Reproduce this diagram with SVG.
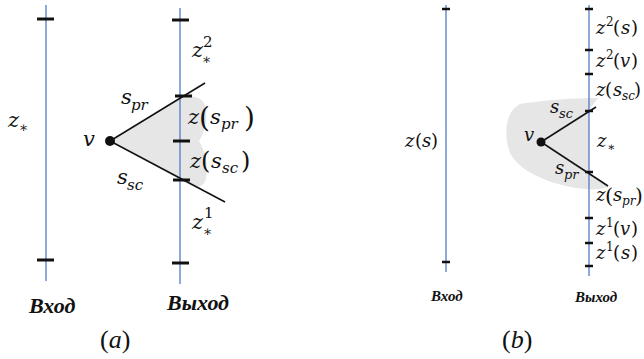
<svg xmlns="http://www.w3.org/2000/svg" width="644" height="359" viewBox="0 0 644 359">
<style>
.axis{stroke:#4f7acb;stroke-width:1.3;fill:none}
.tk{stroke:#111;stroke-width:3;fill:none}
.tks{stroke:#111;stroke-width:2.5;fill:none}
.edge{stroke:#111;stroke-width:1.5;fill:none}
.blob{fill:#e6e6e6;stroke:none}
.m{font-family:"DejaVu Serif",serif;font-style:italic;fill:#111}
.up{font-style:normal}
.lbl{font-family:"Liberation Serif",serif;font-style:italic;font-weight:bold;fill:#111}
.cap{font-family:"Liberation Serif",serif;fill:#111}
</style>
<rect width="644" height="359" fill="#fff"/>
<!-- Panel (a) -->
<g id="a-blob"><path class="blob" d="M110,141 L180,97 C194,95 205,97 206,110 C207,124 204,133 199,141 C205,151 209,165 206,178 C204,188 196,189 186,183 Z"/></g>
<g id="a-input">
<line class="axis" x1="46" y1="5" x2="46" y2="281"/>
<line class="tk" x1="37" y1="19" x2="54" y2="19"/>
<line class="tk" x1="37" y1="260" x2="54" y2="260"/>
</g>
<g id="a-output">
<line class="axis" x1="180" y1="8" x2="180" y2="284"/>
<line class="tk" x1="172" y1="20" x2="189" y2="20"/>
<line class="tk" x1="175" y1="96" x2="192" y2="96"/>
<line class="tk" x1="173" y1="141" x2="190" y2="141"/>
<line class="tk" x1="173" y1="180" x2="190" y2="180"/>
<line class="tk" x1="172" y1="263" x2="189" y2="263"/>
</g>
<g id="a-connectors">
<line class="edge" x1="110" y1="141" x2="205" y2="83"/>
<line class="edge" x1="110" y1="141" x2="225" y2="202"/>
</g>
<g id="a-v"><circle cx="110" cy="141" r="5" fill="#111"/></g>
<g id="a-labels" class="m" font-size="21">
<text x="8" y="127">z<tspan x="19" y="132" font-size="14">∗</tspan></text>
<text x="192" y="57">z<tspan x="203" y="47" font-size="15" class="up">2</tspan><tspan x="202" y="64" font-size="14">∗</tspan></text>
<text x="121" y="104">s<tspan x="131" y="110" font-size="15">pr</tspan></text>
<text x="188" y="124">z<tspan x="199" y="127" font-size="28" class="up">(</tspan><tspan x="210" y="124">s</tspan><tspan x="221" y="129" font-size="15">pr</tspan><tspan x="244" y="127" font-size="28" class="up">)</tspan></text>
<text x="83" y="146">v</text>
<text x="190" y="168">z<tspan x="201" y="169" font-size="24" class="up">(</tspan><tspan x="211" y="168">s</tspan><tspan x="222" y="173" font-size="15">sc</tspan><tspan x="241" y="169" font-size="24" class="up">)</tspan></text>
<text x="117" y="184">s<tspan x="127" y="190" font-size="15">sc</tspan></text>
<text x="192" y="229">z<tspan x="204" y="218" font-size="15" class="up">1</tspan><tspan x="203" y="236" font-size="14">∗</tspan></text>
</g>
<g id="a-captions">
<text class="lbl" x="29" y="313" font-size="22">Вход</text>
<text class="lbl" x="167" y="310" font-size="22">Выход</text>
<text class="cap" x="100" y="348" font-size="26">(<tspan font-style="italic">a</tspan>)</text>
</g>
<!-- Panel (b) -->
<g id="b-blob"><path class="blob" d="M520,104 C545,100 575,98 598,98 L589,110 L589,172 L609,187 C598,191 578,190 558,184 C535,177 514,166 509,150 C504,134 505,112 520,104 Z"/></g>
<g id="b-input">
<line class="axis" x1="446" y1="5" x2="446" y2="272"/>
<line class="tks" x1="442" y1="9" x2="450" y2="9"/>
<line class="tks" x1="442" y1="262" x2="450" y2="262"/>
</g>
<g id="b-output">
<line class="axis" x1="589" y1="5" x2="589" y2="276"/>
<line class="tks" x1="585" y1="9" x2="593" y2="9"/>
<line class="tks" x1="585" y1="50" x2="593" y2="50"/>
<line class="tks" x1="585" y1="74" x2="593" y2="74"/>
<line class="tks" x1="585" y1="111" x2="593" y2="111"/>
<line class="tks" x1="585" y1="172" x2="593" y2="172"/>
<line class="tks" x1="585" y1="218" x2="593" y2="218"/>
<line class="tks" x1="585" y1="243" x2="593" y2="243"/>
<line class="tks" x1="585" y1="266" x2="593" y2="266"/>
</g>
<g id="b-connectors">
<line class="edge" x1="541" y1="142" x2="596" y2="107"/>
<line class="edge" x1="541" y1="142" x2="608" y2="186"/>
</g>
<g id="b-v"><circle cx="541" cy="142" r="4.5" fill="#111"/></g>
<g id="b-labels" class="m" font-size="18">
<text x="405" y="147">z<tspan x="415" class="up">(</tspan><tspan x="422">s</tspan><tspan x="431" class="up">)</tspan></text>
<text x="596" y="34">z<tspan x="606" y="26" font-size="12" class="up">2</tspan><tspan x="613" y="34" class="up">(</tspan><tspan x="621">s</tspan><tspan x="631" class="up">)</tspan></text>
<text x="596" y="67">z<tspan x="606" y="59" font-size="12" class="up">2</tspan><tspan x="613" y="67" class="up">(</tspan><tspan x="620">v</tspan><tspan x="631" class="up">)</tspan></text>
<text x="596" y="96">z<tspan x="605" class="up">(</tspan><tspan x="613">s</tspan><tspan x="622" y="100" font-size="12">sc</tspan><tspan x="634" y="96" class="up">)</tspan></text>
<text x="550" y="113">s<tspan x="559" y="118" font-size="13">sc</tspan></text>
<text x="524" y="141">v</text>
<text x="597" y="147">z<tspan x="607" y="151" font-size="12">∗</tspan></text>
<text x="555" y="174">s<tspan x="564" y="179" font-size="13">pr</tspan></text>
<text x="596" y="201">z<tspan x="605" y="203" font-size="21" class="up">(</tspan><tspan x="613" y="201">s</tspan><tspan x="622" y="205" font-size="12">pr</tspan><tspan x="635" y="203" font-size="20" class="up">)</tspan></text>
<text x="596" y="235">z<tspan x="606" y="227" font-size="12" class="up">1</tspan><tspan x="613" y="235" class="up">(</tspan><tspan x="620">v</tspan><tspan x="631" class="up">)</tspan></text>
<text x="596" y="259">z<tspan x="606" y="251" font-size="12" class="up">1</tspan><tspan x="613" y="259" class="up">(</tspan><tspan x="621">s</tspan><tspan x="631" class="up">)</tspan></text>
</g>
<g id="b-captions">
<text class="lbl" x="431" y="301" font-size="15">Вход</text>
<text class="lbl" x="575" y="302" font-size="15">Выход</text>
<text class="cap" x="502" y="348" font-size="26">(<tspan font-style="italic">b</tspan>)</text>
</g>
</svg>
